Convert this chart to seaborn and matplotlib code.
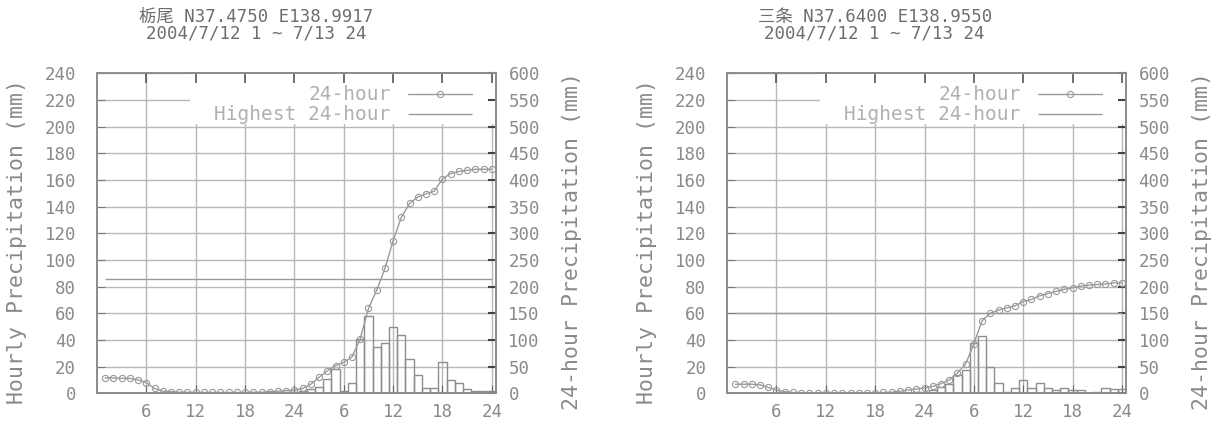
import matplotlib
matplotlib.use("Agg")
import matplotlib.pyplot as plt
import pandas as pd
import seaborn as sns

# hour of the two-day window (7/12 1h ... 7/13 24h)
hours = [1, 2, 3, 4, 5, 6, 7, 8, 9, 10, 11, 12, 13, 14, 15, 16,
         17, 18, 19, 20, 21, 22, 23, 24, 25, 26, 27, 28, 29, 30, 31, 32,
         33, 34, 35, 36, 37, 38, 39, 40, 41, 42, 43, 44, 45, 46, 47, 48]
tick_hours = [6, 12, 18, 24, 30, 36, 42, 48]
tick_labels = ["6", "12", "18", "24", "6", "12", "18", "24"]

# Tochio
tochio_title = "栃尾 N37.4750 E138.9917\n2004/7/12 1 ~ 7/13 24"
tochio_hourly = [0, 0, 0, 0, 0, 0, 0, 0, 0, 0, 0, 0, 0, 0, 0, 0,
                 0, 0, 0, 0, 1, 1, 1, 1, 2, 3, 5, 11, 18, 2, 7.5, 41,
                 58, 35, 38, 50, 43.5, 26, 13.5, 3.7, 3.7, 23.5, 9.7, 7.5, 3, 1.5, 1.5, 2]
tochio_24h = [29, 29, 28, 28, 25, 20, 9, 4, 3, 2, 2, 1.5, 1.5, 1.5, 1.5, 1.5,
              1.5, 1.5, 2, 2, 3, 4, 5, 6, 9, 17, 30, 42, 52, 58, 68, 102,
              159, 193, 234, 286, 330, 356, 368, 374, 379, 402, 412, 416, 418, 420, 420, 420]
tochio_highest = 214

# Sanjo
sanjo_title = "三条 N37.6400 E138.9550\n2004/7/12 1 ~ 7/13 24"
sanjo_hourly = [0, 0, 0, 0, 0, 0, 0, 0, 0, 0, 0, 0, 0, 0, 0, 0,
                0, 0, 0, 0, 0.5, 0.5, 1, 1, 2.5, 5, 7, 13.5, 17.5, 37.5, 43, 20,
                7.5, 1, 4, 10, 4, 7.5, 4, 2.5, 4, 2.5, 2.5, 0.5, 1, 4, 3, 3]
sanjo_24h = [17, 17, 17, 16, 11, 6, 3, 1.5, 1, 1, 1, 1, 1, 1, 1, 1,
             1, 1, 1.5, 2, 4, 6, 8, 10, 13, 18, 25, 38, 55, 93, 136, 150,
             156, 160, 164, 172, 176, 183, 187, 191, 195, 198, 201, 203, 204, 205, 207, 207]
sanjo_highest = 151

sns.set_style("ticks")
plt.rcParams['font.family'] = ['DejaVu Sans Mono', 'Noto Sans CJK JP']

text_c = "#8a8a8a"
grid_c = "#b8b8b8"
edge_c = "#8e8e8e"
line_c = "#9a9a9a"

fig = plt.figure(figsize=(12.2, 4.25), dpi=100)


def draw_panel(rect, title, title_x, hourly, total, highest):
    df = pd.DataFrame({"hour": hours, "hourly": hourly, "total": total})
    ax = fig.add_axes(rect)
    ax2 = ax.twinx()

    sns.barplot(data=df, x="hour", y="hourly", native_scale=True, width=1,
                fill=False, color=edge_c, linewidth=1, errorbar=None, ax=ax)
    sns.lineplot(data=df, x="hour", y="total", color=line_c, linewidth=1,
                 marker="o", markersize=4.5, markerfacecolor="none",
                 markeredgecolor=line_c, markeredgewidth=0.8, ax=ax2)
    curve = ax2.get_lines()[-1]
    hl = ax2.hlines(highest, hours[0], hours[-1], colors=line_c, linewidth=1)

    ax.set_xlim(0, 48.5)
    ax.set_ylim(0, 240)
    ax2.set_ylim(0, 600)
    ax.set_xticks(tick_hours, tick_labels)
    ax.set_yticks(range(0, 241, 20))
    ax2.set_yticks(range(0, 601, 50))
    ax.set_xlabel("")
    ax2.set_xlabel("")
    ax.grid(True, color=grid_c, linewidth=1)
    ax.set_axisbelow(True)

    ax.tick_params(axis="x", direction="in", length=6, color="#666",
                   labelcolor=text_c, labelsize=12.5, pad=7)
    ax.tick_params(axis="y", direction="in", length=6, color="#777",
                   labelcolor=text_c, labelsize=12.5, pad=15)
    ax2.tick_params(axis="y", direction="in", length=6, width=1.5, color="#444",
                    labelcolor=text_c, labelsize=12.5, pad=9)
    # top ticks on the twin so they sit above the white key area
    ax2.xaxis.set_visible(True)
    ax2.tick_params(axis="x", bottom=False, top=True, labelbottom=False,
                    labeltop=False, direction="in", length=7, width=1.2,
                    color="#555")
    for a in (ax, ax2):
        for sp in a.spines.values():
            sp.set_color(edge_c)
            sp.set_linewidth(1.3)

    ax.set_ylabel("Hourly Precipitation (mm)", fontsize=15.5, color=text_c,
                  va="center")
    ax.yaxis.set_label_coords(-0.2, 0.475)
    ax2.set_ylabel("24-hour Precipitation (mm)", fontsize=15.5, color=text_c,
                   va="center")
    ax2.yaxis.set_label_coords(1.19, 0.475)
    ax.set_title(title, x=title_x, fontsize=12.5, color="#6e6e6e", pad=25,
                 linespacing=0.9)

    # white key area over the grid, like the original key box
    ax.add_patch(plt.Rectangle((0.233, 0.842), 0.767, 0.158,
                               transform=ax.transAxes, facecolor="white",
                               edgecolor="none", zorder=0.8))
    ax2.legend(handles=[curve, hl], labels=["24-hour", "Highest 24-hour"],
               loc="upper right", bbox_to_anchor=(0.94, 0.962),
               markerfirst=False, frameon=False, fontsize=14,
               handlelength=3.3, handletextpad=0.9, labelspacing=0.05,
               borderpad=0, borderaxespad=0, labelcolor="#b0b0b0")


draw_panel([0.0795, 0.0746, 0.327, 0.753], tochio_title, 0.40, tochio_hourly,
           tochio_24h, tochio_highest)
draw_panel([0.596, 0.0746, 0.327, 0.753], sanjo_title, 0.37, sanjo_hourly,
           sanjo_24h, sanjo_highest)

fig.savefig("out.png", dpi=100)
